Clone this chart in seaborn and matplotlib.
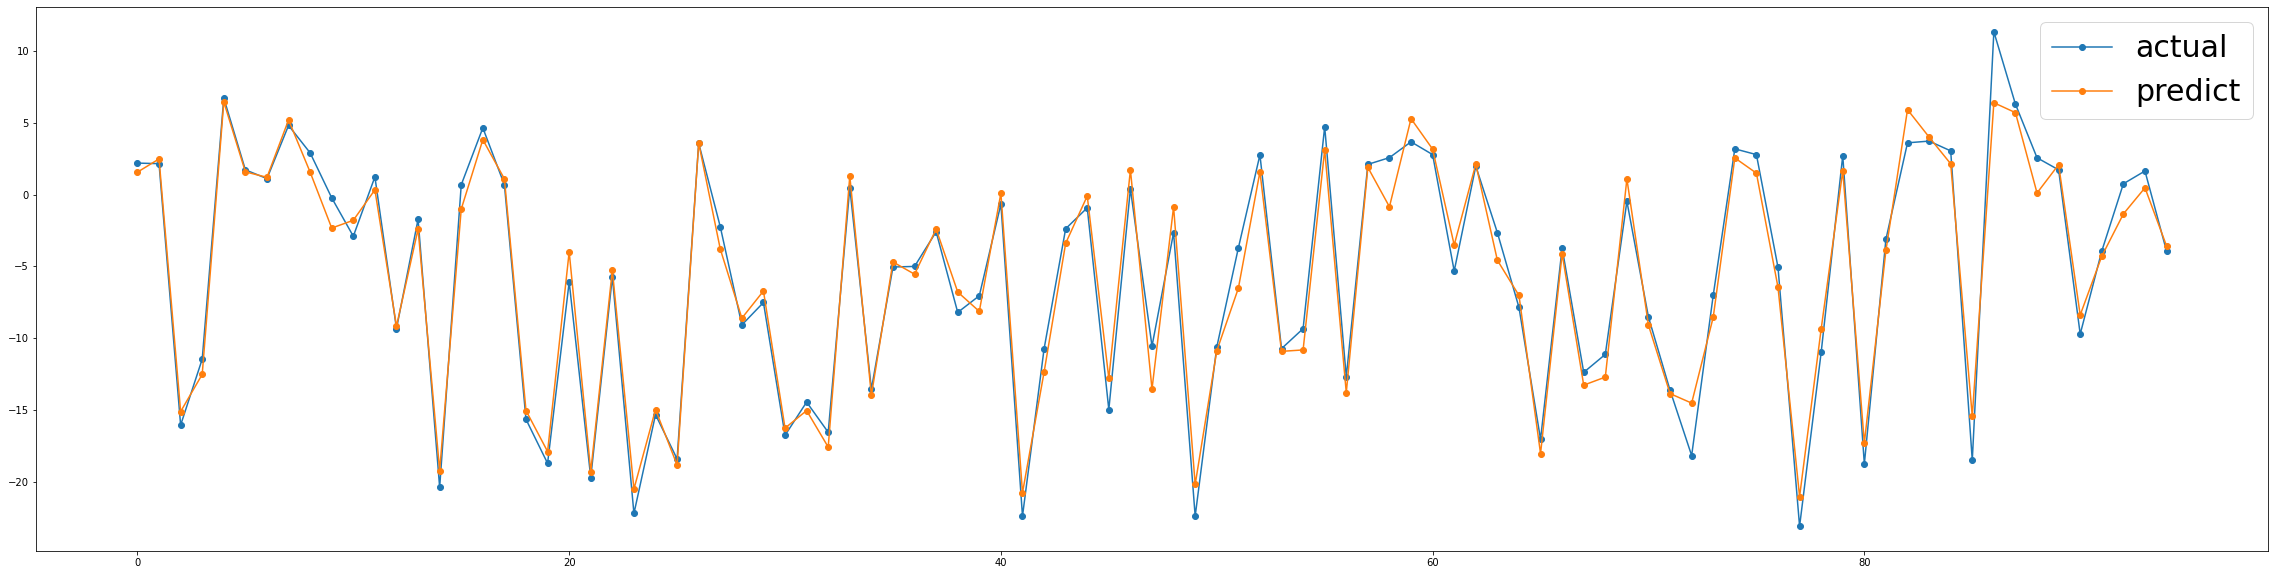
import numpy as np
import matplotlib
matplotlib.use("Agg")
import matplotlib.pyplot as plt
import seaborn as sns

# values
actual = [2.19, 2.15, -16.04, -11.45, 6.71, 1.72, 1.11, 4.81, 2.90, -0.23,
          -2.90, 1.23, -9.33, -1.72, -20.37, 0.68, 4.64, 0.68, -15.64, -18.70,
          -6.08, -19.69, -5.72, -22.19, -15.31, -18.40, 3.58, -2.24, -9.07, -7.51,
          -16.75, -14.44, -16.54, 0.48, -13.54, -5.04, -5.00, -2.59, -8.20, -7.04,
          -0.66, -22.38, -10.74, -2.38, -0.92, -14.96, 0.40, -10.55, -2.65, -22.38,
          -10.62, -3.72, 2.76, -10.72, -9.33, 4.72, -12.69, 2.10, 2.57, 3.67,
          2.78, -5.32, 1.98, -2.65, -7.85, -17.03, -3.72, -12.37, -11.12, -0.47,
          -8.53, -13.62, -18.16, -7.00, 3.18, 2.78, -5.06, -23.08, -10.98, 2.71,
          -18.75, -3.11, 3.60, 3.72, 3.04, -18.49, 11.33, 6.29, 2.56, 1.72,
          -9.71, -3.93, 0.75, 1.64, -3.93]
predict = [1.56, 2.48, -15.10, -12.51, 6.45, 1.58, 1.20, 5.19, 1.56, -2.33,
           -1.79, 0.33, -9.16, -2.40, -19.20, -1.01, 3.82, 1.09, -15.03, -17.88,
           -3.98, -19.27, -5.25, -20.49, -14.96, -18.82, 3.58, -3.79, -8.60, -6.71,
           -16.25, -15.03, -17.57, 1.30, -13.97, -4.69, -5.54, -2.40, -6.78, -8.13,
           0.10, -20.75, -12.36, -3.39, -0.10, -12.79, 1.72, -13.54, -0.85, -20.17,
           -10.88, -6.52, 1.58, -10.91, -10.81, 3.11, -13.78, 1.89, -0.85, 5.28,
           3.16, -3.51, 2.12, -4.57, -7.02, -18.02, -4.12, -13.26, -12.70, 1.09,
           -9.09, -13.85, -14.51, -8.53, 2.55, 1.49, -6.45, -21.01, -9.35, 1.65,
           -17.29, -3.89, 5.91, 4.00, 2.14, -15.43, 6.39, 5.70, 0.11, 2.08,
           -8.38, -4.29, -1.35, 0.47, -3.57]
idx = np.arange(len(actual))

dpi = 72
fig = plt.figure(figsize=(2274 / dpi, 575 / dpi), dpi=dpi)
ax = fig.add_axes([36 / 2274, 1 - 551 / 575, (2268 - 36) / 2274, (551 - 7) / 575])

sns.lineplot(x=idx, y=actual, marker="o", color="C0", label="actual",
             markeredgecolor="C0", markeredgewidth=1, markersize=6, ax=ax)
sns.lineplot(x=idx, y=predict, marker="o", color="C1", label="predict",
             markeredgecolor="C1", markeredgewidth=1, markersize=6, ax=ax)

ax.legend(loc="upper right", fontsize=30)
fig.savefig("out.png", dpi=dpi)
